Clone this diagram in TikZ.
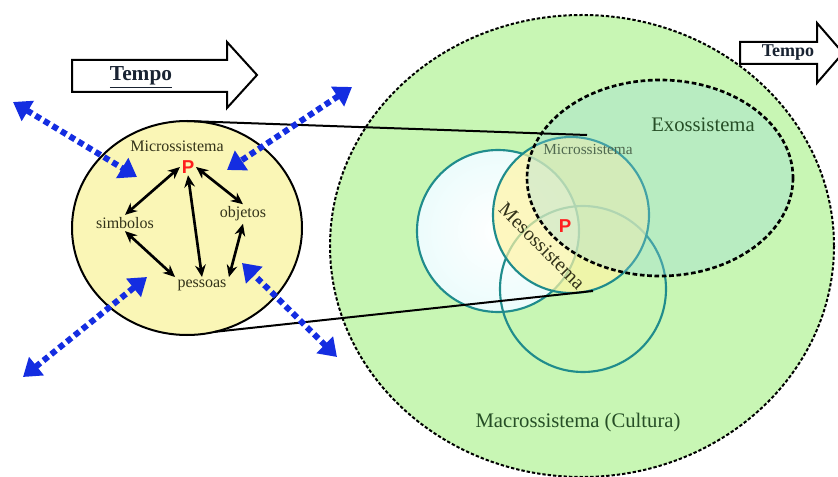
\documentclass[tikz,border=0pt]{standalone}
\usepackage{fontspec}
\setmainfont{Liberation Serif}
\newfontfamily\letraP{Liberation Sans}
\usetikzlibrary{arrows.meta,shapes.geometric}

\definecolor{verdeMacro}{RGB}{200,246,180}
\definecolor{verdeExo}{RGB}{150,215,225}
\definecolor{amareloMicro}{RGB}{250,246,182}
\definecolor{amareloMeso}{RGB}{255,245,165}
\definecolor{cianoClaro}{RGB}{236,252,252}
\definecolor{tealCirc}{RGB}{32,140,140}
\definecolor{azulSeta}{RGB}{20,45,225}
\definecolor{textoVerde}{RGB}{38,78,38}
\definecolor{textoOliva}{RGB}{50,50,25}
\definecolor{textoCinza}{RGB}{80,105,80}
\definecolor{vermelhoP}{RGB}{255,30,30}
\definecolor{tempoCor}{RGB}{25,35,50}

\tikzset{every picture/.style={line width=0.75pt}}
\tikzset{
  tempo/.style={draw=black, line width=1.5pt, fill=white, line join=miter},
  fluxo/.style={draw=azulSeta, line width=4.5pt, dash pattern=on 4.5pt off 3pt,
    {Triangle[length=13pt,width=17pt]}-{Triangle[length=13pt,width=17pt]}},
  liga/.style={draw=black, line width=2pt,
    {Stealth[length=9pt,width=8pt]}-{Stealth[length=9pt,width=8pt]}},
  circulo/.style={draw=tealCirc, line width=1.6pt},
  rotuloEsq/.style={text=textoOliva, font=\fontsize{12}{12}\selectfont, inner sep=1.5pt},
  rotuloDir/.style={text=textoVerde, font=\fontsize{15.5}{15.5}\selectfont, inner sep=1pt},
  letraP/.style={text=vermelhoP, font=\letraP\bfseries\fontsize{14}{14}\selectfont, inner sep=1pt}
}

\begin{document}
\begin{tikzpicture}[x=0.75pt,y=0.75pt,yscale=-1,xscale=1]
\useasboundingbox (0,0) rectangle (838,477);

%Shape: Ellipse [macrossistema]
\draw [fill=verdeMacro, line width=1.5pt, dash pattern=on 2.5pt off 1.5pt] (582,246) ellipse (252 and 231);
%Shape: Circle [esquerda]
\draw [circulo, inner color=white, outer color=cianoClaro] (498,231) circle (81);
%Shape: Circle [baixo]
\draw [circulo] (583,289) circle (83);
%Shape: Circle [microssistema]
\draw [circulo, fill=amareloMeso, fill opacity=0.7] (571,215) circle (78);
%Shape: Ellipse [exossistema]
\draw [fill=verdeExo, fill opacity=0.3, line width=2pt, dash pattern=on 3.5pt off 2pt] (660,178) ellipse (133 and 98);

%Shape: Ellipse [micro esquerda]
\node [ellipse, draw=black, line width=1.5pt, fill=amareloMicro, minimum width=172.5pt, minimum height=160.5pt, inner sep=0pt, outer sep=0pt] (micro) at (187,228) {};

%Straight Lines [zoom]
\coordinate (zoomCima) at (587,135);
\coordinate (zoomBaixo) at (593,291);
\draw [line width=1.5pt] (micro.north) -- (zoomCima);
\draw [line width=1.5pt] (micro.-75) -- (zoomBaixo);

%Right Arrow [tempo]
\draw [tempo] (72,60) -- (227,60) -- (227,42) -- (257,75) -- (227,108) -- (227,92) -- (72,92) -- cycle;
\draw [tempo] (740,42) -- (817,42) -- (817,23) -- (843,53) -- (817,83) -- (817,64) -- (740,64) -- cycle;

% Text Node
\node [text=tempoCor, font=\bfseries\fontsize{16}{16}\selectfont, inner sep=1pt] (tempoEsq) at (141,77) {\underline{Tempo}};
% Text Node
\node [text=tempoCor, font=\bfseries\fontsize{13.5}{13.5}\selectfont, inner sep=1pt] (tempoDir) at (788,53) {Tempo};

% Text Node
\node [rotuloEsq] (tituloMicro) at (177,146) {Microssistema};
% Text Node
\node [letraP] (P) at (188,167) {P};
% Text Node
\node [rotuloEsq] (simb) at (125,223) {simbolos};
% Text Node
\node [rotuloEsq] (obj) at (243,214) {objetos};
% Text Node
\node [rotuloEsq] (pess) at (202,285) {pessoas};

%Straight Lines [ligacoes]
\draw [liga] (P.west) -- (simb.north);
\draw [liga] (P.east) -- (obj.north);
\draw [liga] (P.south) -- (pess.north);
\draw [liga] (simb.south) -- (pess.north west);
\draw [liga] (obj.south) -- (pess.north east);

%Straight Lines [fluxos]
\coordinate (foraNO) at (13,102);
\coordinate (dentroNO) at (137,177);
\coordinate (foraNE) at (352,87);
\coordinate (dentroNE) at (227,170);
\coordinate (foraSO) at (23,377);
\coordinate (dentroSO) at (147,277);
\coordinate (foraSE) at (337,357);
\coordinate (dentroSE) at (242,263);
\draw [fluxo] (foraNO) -- (dentroNO);
\draw [fluxo] (foraNE) -- (dentroNE);
\draw [fluxo] (foraSO) -- (dentroSO);
\draw [fluxo] (foraSE) -- (dentroSE);

% Text Node
\node [rotuloDir] (exo) at (703,125) {Exossistema};
% Text Node
\node [text=textoCinza, font=\fontsize{11.5}{11.5}\selectfont, inner sep=1pt] (microDir) at (588,150) {Microssistema};
% Text Node
\node [text=textoOliva, font=\fontsize{15}{15}\selectfont, rotate=-45, inner sep=0pt] (meso) at (542,246) {Mesossistema};
% Text Node
\node [letraP] (Pdir) at (565,226) {P};
% Text Node
\node [rotuloDir] (macroDir) at (578,423) {Macrossistema (Cultura)};

\end{tikzpicture}
\end{document}
